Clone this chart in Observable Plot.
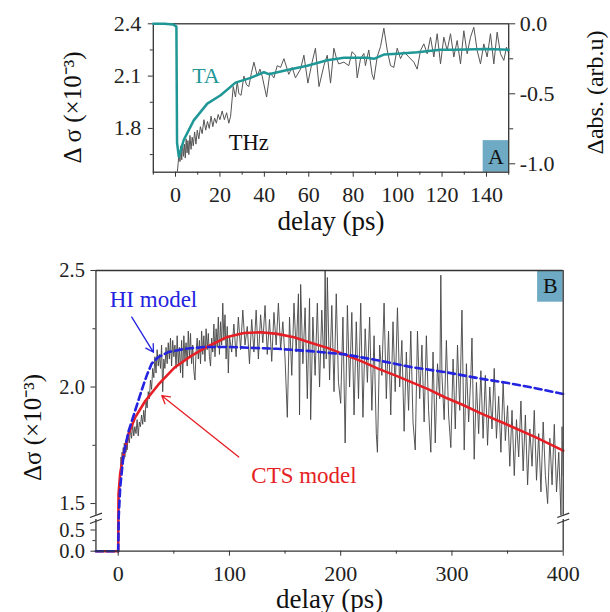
<!DOCTYPE html>
<html><head><meta charset="utf-8">
<script src="https://cdn.jsdelivr.net/npm/d3@7"></script>
<script src="https://cdn.jsdelivr.net/npm/@observablehq/plot@0.6"></script>
<style>
body{margin:0;background:#fff;}
#wrap{position:relative;width:610px;height:612px;overflow:hidden;}
#wrap svg{position:absolute;left:0;}
#wrap svg, #wrap svg text, #wrap svg g{font-family:"Liberation Serif","Times New Roman",serif !important;}
</style></head><body><div id="wrap"></div>
<script>
// ---------- Panel A data ----------
const taDelay = [-10, -5, -1, 0.4, 0.7, 1.5, 3.7, 8.2, 14.3, 20.3, 27, 33.8, 39.8, 42, 50.3, 59.3, 68.3, 75.8, 86.3, 89.3, 93.8, 99.8, 108.8, 119.3, 125.3, 140.3, 150];
const taAbs   = [0, 0, -0.005, -0.02, -0.85, -0.95, -0.83, -0.69, -0.57, -0.51, -0.42, -0.386, -0.346, -0.36, -0.33, -0.30, -0.26, -0.243, -0.243, -0.25, -0.22, -0.214, -0.203, -0.186, -0.186, -0.18, -0.186];
const thzA = [[0.8,1.55],[1.2,1.60],[1.6,1.67],[2.0,1.61],[2.4,1.70],[2.8,1.62],[3.2,1.72],[3.6,1.64],[4.0,1.71],[4.4,1.63],[4.8,1.74],[5.2,1.66],[5.6,1.73],[6.0,1.65],[6.5,1.76],[7.0,1.68],[7.5,1.75],[8.0,1.70],[8.6,1.78],[9.2,1.71],[9.8,1.79],[10.5,1.74],[11.2,1.81],[12.0,1.77],[12.8,1.85],[13.6,1.79],[14.4,1.84],[15.2,1.80],[16.0,1.87],[16.8,1.81],[17.6,1.86],[18.4,1.83],[19.2,1.88],[20.0,1.85],[21.0,1.90],[22.0,1.85],[23.0,1.89],[24.0,1.83],[24.8,1.87],[26.0,2.04],[27.0,1.98],[27.8,2.07],[28.5,2.00],[29.5,1.99],[30.8,2.10],[32.0,2.05],[33.0,2.04],[34.2,2.12],[35.3,2.18],[36.8,2.10],[38.0,2.14],[39.0,2.10],[41.0,1.98],[42.5,2.12],[44.3,2.09],[45.8,2.16],[47.3,2.15],[48.8,2.20],[51.0,2.11],[52.5,2.15],[54.0,2.09],[56.3,2.14],[57.8,2.22],[59.6,2.06],[61.5,2.18],[63.0,2.26],[64.6,2.04],[66.8,2.16],[68.3,2.22],[69.8,2.06],[71.3,2.26],[72.5,2.20],[73.5,2.17],[75.8,2.18],[78.0,2.16],[79.5,2.24],[81.0,2.22],[81.8,2.09],[83.3,2.20],[84.8,2.23],[85.5,2.16],[87.0,2.25],[88.5,2.11],[89.3,2.08],[90.8,2.21],[92.3,2.27],[93.8,2.375],[95.3,2.25],[96.8,2.16],[98.3,2.15],[99.8,2.26],[101.3,2.20],[102.8,2.24],[105.0,2.21],[107.3,2.18],[108.8,2.14],[110.3,2.247],[111.8,2.285],[113.3,2.228],[114.8,2.323],[116.3,2.21],[117.8,2.343],[119.3,2.17],[120.8,2.323],[122.3,2.247],[123.8,2.343],[125.3,2.21],[126.8,2.304],[128.3,2.17],[129.8,2.36],[131.3,2.228],[132.8,2.323],[134.3,2.38],[135.8,2.247],[137.3,2.17],[138.8,2.285],[140.3,2.21],[141.8,2.343],[143.3,2.17],[144.8,2.352],[146.3,2.228],[147.8,2.19],[149.0,2.266],[150,2.23]];
const xMajorA = [0, 20, 40, 60, 80, 100, 120, 140];
const xMinorA = [-10, 10, 30, 50, 70, 90, 110, 130, 150];
const yMajorA = [1.8, 2.1, 2.4];
const yMinorA = [1.65, 1.95, 2.25];
const rMajorA = [-1.0, -0.5, 0.0];
const rMinorA = [-0.75, -0.25];

// ---------- Panel B data ----------
const ctsModel = [[-20,0],[0,0],[0.3,1.54],[1.8,1.63],[4.8,1.71],[9.3,1.80],[15.3,1.87],[24.3,1.94],[36,2.01],[51,2.085],[66,2.135],[81,2.175],[98,2.215],[113,2.232],[128,2.235],[143,2.228],[158,2.214],[173,2.19],[188,2.168],[203,2.14],[219,2.11],[234,2.078],[249,2.05],[264,2.02],[279,1.99],[294,1.955],[309,1.925],[327,1.885],[349,1.84],[375,1.785],[400,1.727]];
const hiModel = [[-20,0],[0,0],[0.5,1.35],[1.8,1.57],[4.8,1.71],[9.3,1.81],[15.3,1.90],[21,1.985],[25.7,2.05],[30,2.10],[36,2.128],[45,2.15],[60,2.164],[78,2.172],[100,2.172],[120,2.168],[143,2.164],[173,2.154],[204,2.14],[234,2.114],[264,2.085],[294,2.064],[327,2.035],[349,2.018],[375,1.995],[400,1.97]];
const thzB = [[2,1.64],[2.5,1.70],[3,1.66],[3.5,1.72],[4,1.67],[4.5,1.74],[5,1.69],[5.5,1.76],[6,1.70],[6.5,1.75],[7,1.72],[7.5,1.78],[8,1.73],[9,1.79],[10,1.76],[11,1.82],[12,1.78],[13,1.84],[14,1.79],[15,1.83],[16,1.80],[17,1.86],[18,1.79],[19,1.85],[20,1.83],[21,1.88],[22,1.84],[23,1.90],[24,1.85],[25,1.94],[26,1.91],[27,1.98],[28,1.95],[29,2.03],[30,1.99],[31,2.08],[32,2.04],[33,2.13],[34,2.06],[35,2.16],[36,2.09],[37,2.14],[38,2.08],[39,2.18],[40,1.98],[41,2.12],[42,2.08],[43,2.17],[44,2.10],[45,2.19],[46,2.12],[47,2.21],[48,2.09],[49,2.20],[50,2.13],[51,2.18],[52,2.08],[53,2.22],[54,2.10],[55,2.17],[56,2.06],[57,2.20],[58,2.04],[59,2.22],[60,2.12],[61,2.19],[62,2.09],[63,2.24],[64,2.13],[65,2.23],[66,2.10],[67,2.18],[68,2.07],[69,2.03],[70,2.15],[71,2.21],[72,2.12],[73,2.20],[74,2.10],[75,2.24],[76,2.14],[77,2.22],[78,2.11],[79,2.25],[80,2.16],[81,2.23],[82,2.13],[83,2.09],[84,2.21],[85,2.15],[86,2.27],[87,2.13],[88,2.25],[89,2.17],[90,2.30],[91,2.14],[92,2.28],[93,2.18],[94,2.36],[95,2.20],[96,2.31],[97,2.12],[98,2.26],[99,2.06],[100,2.22],[102,2.15],[104,2.27],[106,2.13],[108,2.30],[110,2.16],[112,2.33],[114,2.18],[116,2.26],[118,2.10],[120,2.29],[122,2.15],[124,2.33],[126,2.12],[128,2.31],[130,2.19],[132,2.35],[134,2.14],[136,2.29],[138,2.11],[140,2.32],[142,2.18],[144,2.36],[146,2.16],[148,2.28],[150,2.12],[152,1.87],[154,2.30],[156,2.05],[158,2.36],[160,2.15],[162,2.40],[163,1.88],[164,2.44],[166,2.10],[168,2.34],[170,1.95],[172,2.38],[173,1.86],[175,2.30],[177,2.05],[179,2.36],[181,2.00],[183,2.33],[185,2.08],[186,2.50],[187,2.12],[188,2.47],[190,2.03],[192,2.35],[194,1.98],[196,2.40],[198,2.02],[200,1.93],[202,2.30],[204,1.76],[206,2.35],[208,2.00],[210,2.32],[212,1.88],[214,2.28],[216,1.95],[218,2.36],[220,1.87],[222,2.25],[224,2.02],[226,2.30],[228,1.90],[230,2.22],[232,1.80],[233,1.72],[235,2.18],[237,2.05],[239,2.36],[241,1.95],[243,2.24],[245,1.88],[247,2.28],[249,1.98],[251,2.34],[253,2.00],[255,2.20],[257,1.81],[259,2.15],[261,1.90],[263,2.24],[265,1.85],[267,1.73],[269,2.24],[271,1.95],[273,2.18],[275,1.85],[277,2.22],[279,1.90],[281,1.72],[283,2.15],[285,1.76],[287,2.10],[289,1.95],[290,2.48],[291,2.05],[293,1.86],[295,2.20],[297,1.88],[299,1.74],[301,2.12],[303,1.82],[305,2.18],[307,1.90],[309,2.33],[311,1.73],[313,2.10],[315,1.85],[317,2.05],[318,2.21],[320,1.69],[322,2.02],[324,1.80],[326,2.07],[328,1.78],[330,2.05],[332,1.75],[334,2.00],[336,1.82],[338,2.08],[340,1.78],[342,1.96],[344,1.72],[346,2.02],[348,1.77],[350,1.92],[352,1.66],[354,1.90],[356,1.62],[358,1.86],[360,1.70],[362,1.94],[364,1.64],[366,1.88],[368,1.58],[370,1.82],[372,1.66],[374,1.90],[376,1.60],[378,1.80],[380,1.55],[382,1.85],[384,1.62],[386,1.50],[388,1.78],[390,1.58],[392,1.84],[394,1.55],[396,1.72],[398,1.45],[399,1.83],[400,1.62]];
const xMajorB = [0, 100, 200, 300, 400];
const xMinorB = [50, 150, 250, 350];
const yMajorB = [0, 0.5, 1.5, 2.0, 2.5];
const yMinorB = [0.25, 1.75, 2.25];
const yBreakDomain = [0, 0.75, 1.45, 2.5];

// ---------- rendering ----------
const FONT = '"Liberation Serif","Times New Roman",serif';
const styleBase = {fontFamily: FONT, fontSize: "22px", color: "#222", background: "transparent", overflow: "visible"};
const wrap = document.getElementById("wrap");
function place(svg, top) { svg.style.top = top + "px"; wrap.appendChild(svg); }

const TEAL = "#1f9797", BOX = "#6eaac3", RED = "#e61e25", BLUE = "#2323e0", AXC = "#333";
const dimA = {width: 610, height: 250, marginLeft: 152.8, marginRight: 101.8, marginTop: 23.3, marginBottom: 78.3};

const plotA = Plot.plot({
  ...dimA, style: styleBase,
  x: {domain: [-10, 150]},
  y: {domain: [1.549, 2.4]},
  marks: [
    Plot.rect([0], {x1: 138.5, x2: 150, y1: 1.549, y2: 1.73, fill: BOX}),
    Plot.text(["A"], {x: 144.2, y: 1.636, fontSize: 22, fill: "#111"}),
    Plot.line(thzA, {x: d => d[0], y: d => d[1], stroke: "#555", strokeWidth: 1, clip: true}),
    Plot.frame({stroke: AXC, strokeWidth: 1.3}),
    Plot.axisX({ticks: xMajorA, tickSize: 5, tickPadding: 9.5, label: null, tickFormat: d => String(d), stroke: AXC}),
    Plot.axisX({ticks: xMinorA, tickSize: 3, label: null, tickFormat: () => "", stroke: AXC}),
    Plot.axisY({ticks: yMajorA, tickSize: 5, tickPadding: 7, label: null, tickFormat: d => d.toFixed(1), stroke: AXC}),
    Plot.axisY({ticks: yMinorA, tickSize: 3, label: null, tickFormat: () => "", stroke: AXC}),
    Plot.text(["TA"], {x: 13.7, y: 2.1, fontSize: 22, fill: TEAL}),
    Plot.text(["THz"], {x: 33, y: 1.72, fontSize: 22.5, fill: "#111"}),
    Plot.text(["Δ σ (×10⁻³)"], {frameAnchor: "left", textAnchor: "middle", dx: -80.8, dy: 9.5, rotate: -90, fontSize: 25, fill: "#111"}),
    Plot.text(["delay (ps)"], {frameAnchor: "bottom", textAnchor: "middle", dy: 57.3, lineAnchor: "bottom", fontSize: 27, fill: "#111"})
  ]
});
place(plotA, 0);

const plotA2 = Plot.plot({
  ...dimA, style: styleBase,
  x: {domain: [-10, 150], axis: null},
  y: {domain: [-1.06, 0]},
  marks: [
    Plot.line(taDelay.map((t, i) => ({t, r: taAbs[i]})), {x: "t", y: "r", stroke: TEAL, strokeWidth: 2.5}),
    Plot.axisY({anchor: "right", ticks: rMajorA, tickSize: 6, tickPadding: 5, label: null, tickFormat: d => d.toFixed(1), stroke: AXC}),
    Plot.axisY({anchor: "right", ticks: rMinorA, tickSize: 4, label: null, tickFormat: () => "", stroke: AXC}),
    Plot.text(["Δabs. (arb.u)"], {frameAnchor: "right", textAnchor: "middle", dx: 86.8, dy: -5.5, rotate: -90, fontSize: 24, fill: "#111"})
  ]
});
place(plotA2, 0);

const breakMarks = [
  {x1: -25.4, y1: 0.653, x2: -14.6, y2: 0.817}, {x1: -25.4, y1: 1.067, x2: -14.6, y2: 1.459},
  {x1: 394.6, y1: 0.653, x2: 405.4, y2: 0.817}, {x1: 394.6, y1: 1.067, x2: 405.4, y2: 1.459}
];
const frameSegs = [
  {x: -20, y1: 0, y2: 0.75}, {x: -20, y1: 1.45, y2: 2.5},
  {x: 400, y1: 0, y2: 0.75}, {x: 400, y1: 1.45, y2: 2.5}
];

const plotB = Plot.plot({
  width: 610, height: 362, marginLeft: 95.45, marginRight: 47.3, marginTop: 20, marginBottom: 61.3,
  style: styleBase,
  x: {domain: [-20, 400]},
  y: {type: "linear", domain: yBreakDomain, range: [300.7, 268.9, 264.7, 20]},
  marks: [
    Plot.rect([0], {x1: 377, x2: 400, y1: 2.364, y2: 2.5, fill: BOX}),
    Plot.text(["B"], {x: 388.5, y: 2.432, fontSize: 22, fill: "#111"}),
    Plot.line(thzB, {x: d => d[0], y: d => d[1], stroke: "#444", strokeWidth: 0.9, clip: true}),
    Plot.line(ctsModel, {x: d => d[0], y: d => d[1], stroke: RED, strokeWidth: 2.6}),
    Plot.line(hiModel, {x: d => d[0], y: d => d[1], stroke: BLUE, strokeWidth: 2.6, strokeDasharray: "7,4"}),
    Plot.ruleX(frameSegs, {x: "x", y1: "y1", y2: "y2", stroke: AXC, strokeWidth: 1.3}),
    Plot.ruleY([0, 2.5], {stroke: AXC, strokeWidth: 1.3}),
    Plot.link(breakMarks, {x1: "x1", y1: "y1", x2: "x2", y2: "y2", stroke: AXC, strokeWidth: 1.3}),
    Plot.axisX({ticks: xMajorB, tickSize: 5, tickPadding: 8.7, label: null, tickFormat: d => String(d), stroke: AXC}),
    Plot.axisX({ticks: xMinorB, tickSize: 3, label: null, tickFormat: () => "", stroke: AXC}),
    Plot.axisY({ticks: yMajorB, tickSize: 5, tickPadding: 6, label: null, tickFormat: d => d.toFixed(1), fontSize: 20.5, stroke: AXC}),
    Plot.axisY({ticks: yMinorB, tickSize: 3, label: null, tickFormat: () => "", stroke: AXC}),
    Plot.arrow([0], {x1: 12.2, y1: 2.30, x2: 31.7, y2: 2.149, stroke: BLUE, strokeWidth: 1.3, headLength: 10}),
    Plot.arrow([0], {x1: 108.4, y1: 1.70, x2: 39.2, y2: 1.963, stroke: RED, strokeWidth: 1.3, headLength: 10}),
    Plot.text(["HI model"], {x: 31.7, y: 2.376, fontSize: 23, fill: BLUE}),
    Plot.text(["CTS model"], {x: 167, y: 1.62, fontSize: 23, fill: RED}),
    Plot.text(["Δσ (×10⁻³)"], {frameAnchor: "left", textAnchor: "middle", dx: -62.5, dy: 16.7, rotate: -90, fontSize: 25, fill: "#111"}),
    Plot.text(["delay (ps)"], {frameAnchor: "bottom", textAnchor: "middle", dy: 56.3, lineAnchor: "bottom", fontSize: 27, fill: "#111"})
  ]
});
place(plotB, 250);
</script></body></html>
